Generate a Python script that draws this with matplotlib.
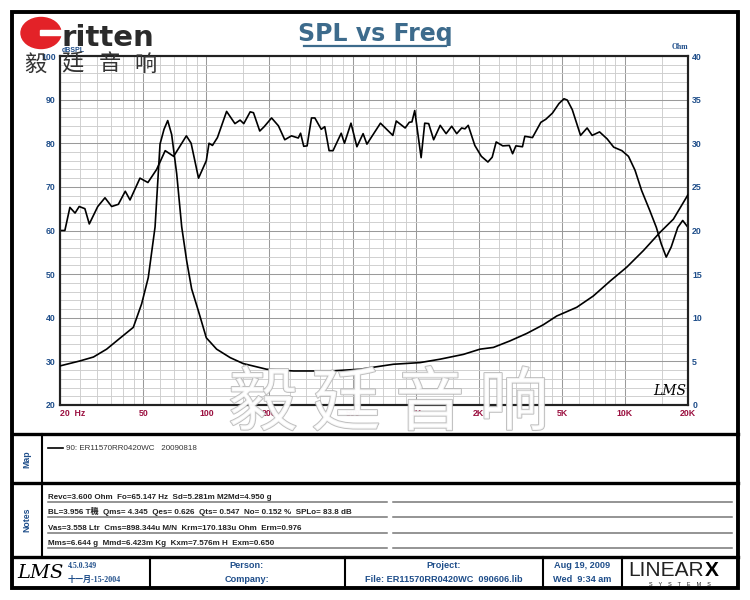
"""SPL vs Freq sheet (LMS style) for ER11570RR0420WC: SPL + impedance, map, notes, footer."""
import matplotlib
matplotlib.use("Agg")
import matplotlib.pyplot as plt
import matplotlib.patheffects as pe
from matplotlib.patches import Rectangle, Ellipse
from matplotlib.ticker import FixedLocator, NullFormatter

# ---- data ----
spl_freq = [20, 21.1, 22.3, 23.6, 24.7, 26.3, 27.6, 30.3, 32.8, 35.3, 38, 41, 43.2, 48.2, 52.6,
            57.9, 63.6, 69.8, 80.3, 84.6, 91.8, 100, 103, 107, 113, 125, 137, 145, 151, 162, 168,
            180, 189, 205, 221, 237, 255, 275, 282, 292, 303, 318, 330, 354, 368, 386, 403, 441,
            457, 491, 524, 561, 585, 679, 778, 808, 891, 932, 960, 990, 1062, 1105, 1154, 1219,
            1310, 1398, 1487, 1571, 1659, 1720, 1783, 1917, 2060, 2214, 2321, 2425, 2606, 2801,
            2905, 3012, 3238, 3323, 3614, 3964, 4187, 4501, 4838, 5112, 5300, 5600, 6134, 6594,
            6966, 7560, 8217, 8833, 9666, 10390, 11170, 12000, 13130, 14120, 14910, 15740, 16620,
            17870, 18870, 20000]
spl_db = [60, 60, 65.3, 64, 65.5, 65, 61.5, 65.5, 67.5, 65.5, 66, 69, 67, 72, 71,
          74, 78.3, 77, 81.7, 80, 72, 76, 80, 79.5, 81.3, 87.3, 84.5, 85.3, 84.5, 87.2, 87,
          82.8, 83.8, 85.8, 84, 80.8, 81.7, 81.2, 82.3, 79.3, 79.4, 85.8, 85.8, 83.2, 83.8, 78.3, 78.3, 82.3,
          80, 84.6, 79.2, 82.2, 79.8, 84.6, 81.8, 85.1, 83.5, 84.8, 84.9, 87.5, 76.7, 84.6, 84.5, 80.8,
          84.1, 82.2, 83.9, 82.2, 83.5, 83.3, 84.1, 79.5, 77, 75.7, 76.8, 80.3, 79.4, 79.5,
          77.6, 79.4, 79.2, 81.6, 81.3, 84.8, 85.5, 86.9, 89.1, 90.2, 89.9, 87.7, 81.8, 83.5,
          81.8, 82.6, 81, 79.1, 78.3, 77, 73.8, 69.2, 64.6, 60.7, 56.9, 53.9, 56.2,
          60.7, 62.3, 60.7]
imp_freq = [20, 24.9, 28.9, 33.4, 38.7, 44.8, 49.1, 52.8, 56.9, 60.1, 62.8, 65.4, 68.3, 72.2,
            76.3, 80.6, 85.1, 91.6, 100, 112, 130, 150, 194, 261, 390, 542, 783, 1050, 1308,
            1690, 2031, 2352, 2825, 3394, 4074, 4721, 5274, 5884, 7064, 8488, 10200, 12250,
            14720, 17030, 20000]
imp_ohm = [4.48, 5.05, 5.5, 6.4, 7.66, 8.9, 11.6, 14.6, 20.4, 29.9, 31.6, 32.6, 31.0, 26.5,
           20.4, 16.5, 13.3, 10.8, 7.7, 6.4, 5.43, 4.75, 4.1, 3.9, 3.9, 4.1, 4.67, 4.86, 5.25,
           5.8, 6.4, 6.6, 7.35, 8.2, 9.2, 10.2, 10.7, 11.2, 12.5, 14.2, 15.8, 17.7,
           19.8, 21.3, 24.1]
x_ticks = [20, 50, 100, 200, 500, 1000, 2000, 5000, 10000, 20000]
x_labels = ["20  Hz", "50", "100", "200", "500", "1K", "2K", "5K", "10K", "20K"]
db_ticks = [20, 30, 40, 50, 60, 70, 80, 90, 100]
ohm_ticks = [0, 5, 10, 15, 20, 25, 30, 35, 40]
legend_label = "90: ER11570RR0420WC   20090818"
notes = ["Revc=3.600 Ohm  Fo=65.147 Hz  Sd=5.281m M2Md=4.950 g",
         "BL=3.956 T穖  Qms= 4.345  Qes= 0.626  Qts= 0.547  No= 0.152 %  SPLo= 83.8 dB",
         "Vas=3.558 Ltr  Cms=898.344u M/N  Krm=170.183u Ohm  Erm=0.976",
         "Mms=6.644 g  Mmd=6.423m Kg  Kxm=7.576m H  Exm=0.650"]

BLUE, TICKRED, TITLE = "#1f4e8a", "#9b1040", "#3d6b8c"
SANS = ["Liberation Sans", "DejaVu Sans", "Noto Sans CJK SC"]
SERIF = ["Liberation Serif", "DejaVu Serif", "Noto Sans CJK SC"]
W, H = 750, 600

fig = plt.figure(figsize=(7.5, 6), dpi=100)
bg = fig.add_axes([0, 0, 1, 1]); bg.set_xlim(0, W); bg.set_ylim(H, 0); bg.axis("off")

# ---- main plot ----
ax = fig.add_axes([60 / W, 1 - 405 / H, 628 / W, 349 / H])
ax.set_xscale("log"); ax.set_xlim(20, 20000); ax.set_ylim(20, 100)
minors = [m * d for d in (10, 100, 1000, 10000) for m in (1, 1.5, 2, 2.5, 3, 3.5, 4, 4.5, 5, 6, 7, 8, 9)]
minors = [f for f in minors if 20 < f < 20000 and f not in x_ticks]
ax.xaxis.set_minor_locator(FixedLocator(minors)); ax.xaxis.set_minor_formatter(NullFormatter())
ax.yaxis.set_minor_locator(FixedLocator(range(20, 101, 2)))
ax.grid(which="major", color="#9a9a9a", lw=0.75)
ax.grid(which="minor", color="#cdcdcd", lw=0.65)
ax.set_axisbelow(True)
ax.plot(spl_freq, spl_db, color="black", lw=1.2, zorder=3)
ax.set_xticks(x_ticks)
ax.set_xticklabels(x_labels, color=TICKRED, fontsize=6.3, fontweight="bold", family=SANS)
ax.get_xticklabels()[0].set_ha("left")
ax.set_yticks(db_ticks)
ax.set_yticklabels([str(v) for v in db_ticks], color=BLUE, fontsize=6.3, fontweight="bold", family=SANS)
ax.tick_params(which="both", length=0, pad=3)
for s in ax.spines.values():
    s.set_linewidth(1.5); s.set_color("#222")

ax2 = ax.twinx(); ax2.set_ylim(0, 40)
ax2.plot(imp_freq, imp_ohm, color="black", lw=1.2, zorder=3)
ax2.set_yticks(ohm_ticks)
ax2.set_yticklabels([str(v) for v in ohm_ticks], color=BLUE, fontsize=6.3, fontweight="bold", family=SANS)
ax2.tick_params(length=0, pad=3)
for s in ax2.spines.values():
    s.set_linewidth(1.5); s.set_color("#222")

# ---- overlay: frame, labels, panels ----
ov = fig.add_axes([0, 0, 1, 1], zorder=5); ov.set_xlim(0, W); ov.set_ylim(H, 0); ov.axis("off")
ov.add_patch(Rectangle((12, 12), 726, 576, fill=False, lw=2.8, ec="black"))
for y in (434, 483, 557):
    ov.plot([12, 738], [y, y], color="black", lw=2.4)
ov.plot([42, 42], [434, 557], color="black", lw=1.5)
for x in (150, 345, 543, 622):
    ov.plot([x, x], [557, 588], color="black", lw=1.5)

ov.text(375, 34, "SPL vs Freq", ha="center", va="center", fontsize=17, fontweight="bold",
        color=TITLE, family="DejaVu Sans")
ov.plot([304, 446], [46, 46], color=TITLE, lw=1.6)
ov.text(62, 50, "dBSPL", fontsize=5, color=BLUE, fontweight="bold", va="center", family=SANS)
ov.text(672, 47, "Ohm", fontsize=5.5, color=BLUE, fontweight="bold", va="center", family=SERIF)
ov.text(653, 391, "LMS", fontsize=10, style="italic", family="DejaVu Serif", va="center")

# logo
ov.add_patch(Ellipse((41, 33), 40, 31, color="#e32228", zorder=6))
ov.add_patch(Rectangle((40, 30), 24, 5, color="white", zorder=7))
ov.text(61, 46, "ritten", fontsize=21, fontweight="bold", color="#2b2b2b", va="baseline",
        family="DejaVu Sans", zorder=7)
for cx, ch in zip((35, 72, 110, 145), "毅廷音响"):
    ov.text(cx, 64, ch, fontsize=16, color="#333", ha="center", va="center",
            family="Noto Sans CJK SC", zorder=7)
# watermark
for cx, ch in zip((263, 346, 430, 514), "毅廷音响"):
    ov.text(cx, 405, ch, fontsize=50, color="white", ha="center", va="center",
            family="Noto Sans CJK SC", fontweight="light", alpha=0.85,
            path_effects=[pe.withStroke(linewidth=1.4, foreground="#b4b4b4")])

# map panel
ov.text(27, 459, "Map", rotation=90, ha="center", va="center", fontsize=6.3, fontweight="bold",
        color=BLUE, family=SANS)
ov.plot([48, 63], [448, 448], color="black", lw=1.2)
ov.text(66, 448, legend_label, fontsize=5.8, va="center", color="#333", family=SANS)

# notes panel
ov.text(27, 520, "Notes", rotation=90, ha="center", va="center", fontsize=6.3, fontweight="bold",
        color=BLUE, family=SANS)
for i, line in enumerate(notes):
    y = 502 + i * 15.3
    ov.plot([48, 387], [y, y], color="#777", lw=1.1)
    ov.plot([393, 732], [y, y], color="#777", lw=1.1)
    ov.text(48, y - 1, line, fontsize=5.8, fontweight="bold", va="bottom", color="#222", family=SANS)

# footer
ov.text(17, 573, "LMS", fontsize=14, style="italic", family="DejaVu Serif", va="center")
ov.text(68, 566, "4.5.0.349", fontsize=5.6, fontweight="bold", color=BLUE, va="center", family=SERIF)
ov.text(68, 580, "十一月-15-2004", fontsize=5.8, fontweight="bold", color=BLUE, va="center", family=SERIF)
for cx, top, bot in [(247, "Person:", "Company:"), (444, "Project:", "File: ER11570RR0420WC  090606.lib"),
                     (582, "Aug 19, 2009", "Wed  9:34 am")]:
    ov.text(cx, 566, top, ha="center", va="center", fontsize=6.6, fontweight="bold", color=BLUE, family=SANS)
    ov.text(cx, 580, bot, ha="center", va="center", fontsize=6.6, fontweight="bold", color=BLUE, family=SANS)
lin = ov.text(628, 570, "LINEAR", fontsize=15, family=SANS, va="center", color="#222")
ov.annotate("X", xy=(1, 0.5), xycoords=lin, xytext=(1, 0), textcoords="offset points",
            fontsize=15, fontweight="bold", family=SANS, va="center", color="black")
ov.text(680, 584, "S    Y    S    T    E    M    S", fontsize=4, ha="center", va="center",
        color="#222", family=SANS)

fig.savefig("out.png", dpi=100)
